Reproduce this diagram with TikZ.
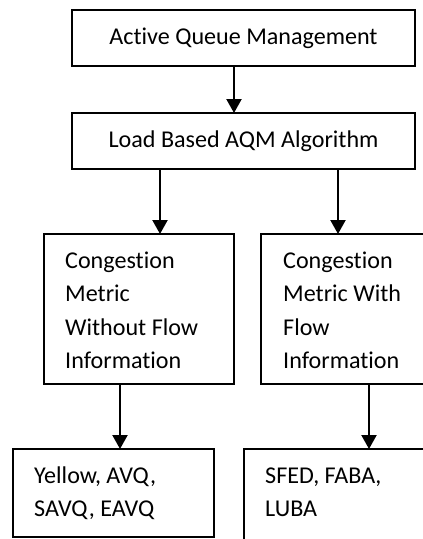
\documentclass[tikz,border=0pt]{standalone}
\usepackage{fontspec}
\setmainfont[Ligatures=NoCommon]{Carlito}
\usetikzlibrary{arrows.meta,calc}
\begin{document}
\begin{tikzpicture}[x=1pt,y=-1pt,
  box/.style={draw,line width=1.5pt,rectangle,inner sep=0pt,outer sep=0pt,anchor=north west},
  label/.style={font=\fontsize{24.1}{33.5}\selectfont},
  lines/.style={label,align=left,inner sep=0pt,anchor=base west},
  arr/.style={line width=2.2pt,-{Triangle[width=15pt,length=14pt]}}]
  \useasboundingbox (0,0) rectangle (423,539);
  \clip (0,0) rectangle (423,539);

  % top level boxes
  \node[box,label,minimum width=343pt,minimum height=56pt] (b1) at (72,10) {Active Queue Management};
  \node[box,label,minimum width=343pt,minimum height=56pt] (b2) at (72,113) {Load Based AQM Algorithm};

  % congestion metric boxes (text anchored on its last baseline)
  \node[box,minimum width=190pt,minimum height=150pt] (b3) at (44,234) {};
  \node[box,minimum width=200pt,minimum height=150pt] (b4) at (261,234) {};
  \node[lines] (t3) at ($(b3.north west)+(21,134.5)$) {Congestion\\Metric\\Without Flow\\Information};
  \node[lines] (t4) at ($(b4.north west)+(22,134.5)$) {Congestion\\Metric With\\Flow\\Information};

  % algorithm boxes
  \node[box,minimum width=201pt,minimum height=88pt] (b5) at (13,449) {};
  \node[box,minimum width=220pt,minimum height=120pt] (b6) at (244,449) {};
  \node[lines] (t5) at ($(b5.north west)+(21,67.5)$) {Yellow, AVQ,\\SAVQ, EAVQ};
  \node[lines] (t6) at ($(b6.north west)+(21,67.5)$) {SFED, FABA,\\LUBA};

  % connectors
  \draw[arr] ([xshift=-9.5pt]b1.south) -- ([xshift=-9.5pt]b1.south |- b2.north);
  \draw[arr] ([xshift=21pt]b3.north |- b2.south) -- ([xshift=21pt]b3.north);
  \draw[arr] ([xshift=77pt]b4.north west |- b2.south) -- ([xshift=77pt]b4.north west);
  \draw[arr] ([xshift=76pt]b3.south west) -- ([xshift=76pt]b3.south west |- b5.north);
  \draw[arr] ([xshift=108pt]b4.south west) -- ([xshift=108pt]b4.south west |- b6.north);
\end{tikzpicture}
\end{document}
